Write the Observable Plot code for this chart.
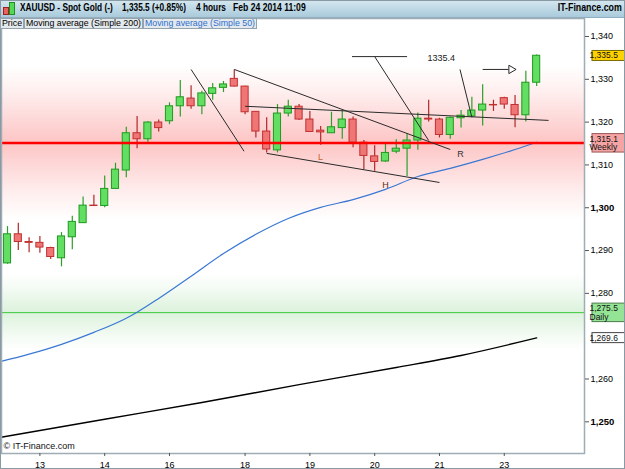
<!DOCTYPE html>
<html><head><meta charset="utf-8">
<script src="https://cdn.jsdelivr.net/npm/d3@7"></script>
<script src="https://cdn.jsdelivr.net/npm/@observablehq/plot@0.6"></script>
<style>
body{margin:0;background:#fff;font-family:"Liberation Sans",Arial,sans-serif;}
#wrap{position:relative;width:625px;height:469px;overflow:hidden;background:#fff;}
#hdr{position:absolute;left:0;top:0;width:625px;height:18px;background:linear-gradient(#d6e8f1,#a9cadb);border-bottom:1px solid #8fb0c2;box-sizing:border-box;}
.ht{position:absolute;top:2px;font-weight:bold;font-size:10px;white-space:nowrap;color:#000;transform-origin:left center;transform:scaleX(0.83);}
#legend{position:absolute;left:0;top:18px;height:10px;display:flex;font-size:8.8px;z-index:2;}
.lg{border:1px solid #93a4ae;background:#e3e9ec;padding:0 1px;line-height:9px;height:9px;white-space:nowrap;}
#chart{position:absolute;left:0;top:18px;}
#border{position:absolute;left:0;top:0;width:625px;height:469px;box-sizing:border-box;border:1px solid #8a9aa5;pointer-events:none;}
.ic{position:absolute;}
</style></head>
<body>
<div id="wrap">
  <div id="hdr">
    <div class="ic" style="left:3px;top:7px;width:4px;height:6px;background:#e86060;border:1px solid #a02020"></div>
    <div class="ic" style="left:9px;top:2px;width:4px;height:11px;background:#55d855;border:1px solid #1e8e1e"></div>
    <span class="ht" style="left:20px">XAUUSD - Spot Gold (-)</span>
    <span class="ht" style="left:122px">1,335.5 (+0.85%)</span>
    <span class="ht" style="left:196px">4 hours</span>
    <span class="ht" style="left:233px;transform:scaleX(0.86)">Feb 24 2014 11:09</span>
    <span class="ht" style="right:3px;transform-origin:right center;transform:scaleX(0.88)">IT-Finance.com</span>
  </div>
  <div id="legend">
    <div class="lg">Price</div>
    <div class="lg">Moving average (Simple 200)</div>
    <div class="lg" style="color:#2f6fd0">Moving average (Simple 50)</div>
  </div>
  <div id="chart"></div>
  <div id="border"></div>
</div>
<script>
// ---- candle data (4-hour XAUUSD) ----
const open  = [1287.0,1293.8,1292.0,1291.8,1290.6,1288.2,1293.1,1296.4,1300.5,1300.4,1304.4,1308.7,1317.4,1316.0,1319.9,1320.2,1323.7,1325.5,1323.7,1326.6,1328.0,1330.1,1328.3,1322.4,1317.8,1313.4,1322.0,1323.6,1320.6,1318.0,1317.4,1318.6,1320.6,1315.2,1312.0,1310.8,1313.1,1313.8,1315.7,1320.8,1320.6,1317.0,1320.9,1321.3,1322.7,1324.0,1325.6,1324.0,1321.6,1329.2];
const high  = [1295.6,1296.4,1293.0,1293.3,1290.8,1294.2,1298.0,1302.5,1302.9,1307.4,1310.4,1318.8,1321.3,1320.1,1320.5,1324.5,1329.7,1328.5,1327.2,1329.0,1329.5,1332.2,1328.4,1322.5,1321.0,1324.1,1325.1,1324.1,1322.5,1319.0,1322.3,1322.7,1321.2,1315.7,1314.5,1315.0,1315.9,1317.3,1322.1,1325.1,1320.9,1321.2,1322.7,1325.8,1328.7,1325.1,1325.8,1326.2,1331.9,1335.7];
const low   = [1286.8,1290.0,1289.5,1289.4,1287.9,1286.2,1290.2,1296.3,1300.3,1300.0,1304.3,1307.0,1313.8,1315.3,1317.7,1319.4,1321.2,1323.0,1321.7,1325.1,1326.9,1328.2,1321.7,1316.3,1312.8,1312.8,1321.2,1320.4,1317.6,1314.6,1317.4,1316.0,1314.0,1308.9,1308.5,1310.6,1312.6,1307.3,1313.4,1320.0,1316.3,1316.0,1318.6,1321.1,1319.1,1322.5,1323.0,1318.7,1320.0,1328.3];
const close = [1293.8,1292.0,1291.8,1290.7,1288.5,1293.3,1296.7,1300.5,1300.4,1304.4,1308.9,1317.4,1316.0,1319.9,1318.6,1323.7,1325.8,1323.7,1326.7,1327.9,1328.8,1328.3,1322.3,1317.8,1313.6,1322.0,1323.6,1320.6,1317.7,1317.6,1318.8,1320.6,1315.2,1312.1,1310.7,1312.8,1313.8,1315.7,1320.8,1320.6,1317.0,1321.0,1321.5,1322.7,1324.1,1323.9,1324.1,1321.6,1329.2,1335.5];

// x-axis tick labels (day of month) at candle positions
const tickIdx    = [3, 9, 15, 22, 28, 34, 40, 46];
const tickLabels = ["13","14","16","18","19","20","21","23"];

// y-axis ticks (1,270 is hidden by the MA label in the original)
const yTicksNormal = [1260,1280,1290,1310,1320,1330,1340];
const yTicksBold   = [1250,1300];

// moving averages (candle position / price)
const ma50Idx = [-0.6,2,5,8,11,12,14,17,20,23,26,29,32,35,38,41,44,47,49];
const ma50Val = [1264.1,1265.8,1268.1,1270.9,1274.2,1275.6,1278.8,1284.0,1289.3,1293.8,1297.5,1300.1,1301.9,1304.3,1307.3,1309.2,1311.3,1313.6,1315.3];
const ma200Idx = [-0.6,9,18,27,36,42,49];
const ma200Val = [1246.4,1250.6,1254.5,1258.7,1262.7,1265.5,1269.6];

// support / resistance levels
const levelValues = [1315.1, 1275.5];
const levelNames  = ["Weekly", "Daily"];

// right-side price labels
const priceLabelValues = [1335.5, 1315.1, 1275.5, 1269.6];
const priceLabelTexts  = ["1,335.5", "1,315.1\nWeekly", "1,275.5\nDaily", "1,269.6"];

// hand-drawn trend lines (candle position, price)
const trendLines = [
  {i1:17.0, p1:1332.3, i2:21.9, p2:1313.2},
  {i1:21.0, p1:1332.3, i2:41.0, p2:1313.6},
  {i1:22.0, p1:1323.7, i2:50.1, p2:1320.4},
  {i1:24.0, p1:1312.7, i2:40.0, p2:1305.9},
  {i1:31.9, p1:1335.3, i2:37.0, p2:1335.3},
  {i1:34.0, p1:1335.3, i2:39.0, p2:1315.7},
  {i1:41.9, p1:1332.3, i2:43.0, p2:1321.1}
];
const arrowLine = [{i1:44.0, i2:46.4, p:1332.3}];

// annotation letters and level note
const letterText = ["L", "H", "R"];
const letterIdx  = [28.98, 35.0, 41.94];
const letterVal  = [1311.8, 1305.4, 1312.5];
const noteText = ["1335.4"];
const noteIdx  = [38.9];
const noteVal  = [1334.9];

// ---- build tables ----
const candles = open.map((o, i) => ({i, open: o, high: high[i], low: low[i], close: close[i]}));
const up = candles.filter(d => d.close >= d.open);
const down = candles.filter(d => d.close < d.open);
const ma50 = ma50Idx.map((x, k) => ({x, y: ma50Val[k]}));
const ma200 = ma200Idx.map((x, k) => ({x, y: ma200Val[k]}));
const priceLabels = priceLabelValues.map((v, k) => ({v, t: priceLabelTexts[k]}));
const letters = letterText.map((t, k) => ({t, x: letterIdx[k], y: letterVal[k]}));
const notes = noteText.map((t, k) => ({t, x: noteIdx[k], y: noteVal[k]}));
const letterColors = ["#c8642d", "#5a3020", "#333"];

const hw = 0.33;
const chart = Plot.plot({
  width: 625, height: 451,
  marginTop: 0, marginLeft: 1, marginRight: 41, marginBottom: 16,
  x: {domain: [-0.556, 53.43], axis: null},
  y: {domain: [1242.6, 1344.2], axis: null},
  style: {fontFamily: "'Liberation Sans', Arial, sans-serif", fontSize: "9px", background: "transparent", overflow: "visible"},
  marks: [
    Plot.rect([levelValues[0]], {y1: d => d - 18, y2: d => d + 18, fill: "#fdc5c5"}),
    Plot.rect([levelValues[1]], {y1: d => d - 9, y2: d => d + 9, fill: "#dcf2dc"}),
    Plot.ruleY([levelValues[1]], {stroke: "#3cc83c", strokeWidth: 1}),
    Plot.line(ma200, {x: "x", y: "y", stroke: "#000", strokeWidth: 1.4, curve: "monotone-x"}),
    Plot.line(ma50, {x: "x", y: "y", stroke: "#3a78d4", strokeWidth: 1.2, curve: "monotone-x"}),
    // wicks
    Plot.ruleX(up, {x: "i", y1: "low", y2: "high", stroke: "#2aa02a", strokeWidth: 1.2}),
    Plot.ruleX(down, {x: "i", y1: "low", y2: "high", stroke: "#b02828", strokeWidth: 1.2}),
    // bodies
    Plot.rect(up, {x1: d => d.i - hw, x2: d => d.i + hw, y1: "open", y2: "close", fill: "#62de62", stroke: "#1f9a1f", strokeWidth: 1}),
    Plot.rect(down, {x1: d => d.i - hw, x2: d => d.i + hw, y1: "open", y2: "close", fill: "#f07676", stroke: "#c03030", strokeWidth: 1}),
    Plot.ruleY([levelValues[0]], {stroke: "#ff0000", strokeWidth: 2.5}),
    // trend lines
    Plot.link(trendLines, {x1: "i1", y1: "p1", x2: "i2", y2: "p2", stroke: "#2a2a2a", strokeWidth: 1}),
    Plot.link(arrowLine, {x1: "i1", y1: "p", x2: "i2", y2: "p", stroke: "#2a2a2a", strokeWidth: 1}),
    Plot.dot(arrowLine, {x: d => d.i2 + 0.25, y: "p", symbol: "triangle", r: 3.1, rotate: 90, fill: "#fff", stroke: "#2a2a2a", strokeWidth: 1}),
    Plot.text(letters, {x: "x", y: "y", text: "t", textAnchor: "middle", fontSize: 9, fill: "#333"}),
    Plot.text(notes, {x: "x", y: "y", text: "t", textAnchor: "start", fontSize: 9, fill: "#222"}),
    Plot.text(["© IT-Finance.com"], {frameAnchor: "bottom-left", dx: 2, dy: -5, textAnchor: "start", fontSize: 9, fill: "#111"}),
    Plot.frame({stroke: "#a0adb4", strokeWidth: 1.5}),
    Plot.axisY({anchor: "right", ticks: yTicksNormal, tickFormat: d3.format(","), tickSize: 4, tickPadding: 2, fontSize: 9, stroke: "#555"}),
    Plot.axisY({anchor: "right", ticks: yTicksBold, tickFormat: d3.format(","), tickSize: 4, tickPadding: 2, fontSize: 9.5, fontWeight: "bold", stroke: "#555"}),
    Plot.axisX({ticks: tickIdx, tickFormat: d => tickLabels[tickIdx.indexOf(d)], tickSize: 3, tickPadding: 5, fontSize: 9, stroke: "#555"}),
    Plot.text(priceLabels, {y: "v", text: "t", frameAnchor: "right", dx: 5, textAnchor: "start", fontSize: 8.5, fill: "#111", lineHeight: 1.0})
  ]
});
document.getElementById("chart").append(chart);

// gradients for glow bands
const svg = d3.select(chart);
const defs = svg.insert("defs", ":first-child");
function grad(id, color) {
  const g = defs.append("linearGradient").attr("id", id).attr("x1", 0).attr("y1", 0).attr("x2", 0).attr("y2", 1);
  [[0, 0], [0.18, 0.3], [0.5, 1], [0.82, 0.3], [1, 0]].forEach(([o, a]) =>
    g.append("stop").attr("offset", o).attr("stop-color", color).attr("stop-opacity", a));
}
grad("glowRed", "#fdc5c5");
grad("glowGreen", "#dcf2dc");
svg.selectAll('[fill="#fdc5c5"]').attr("fill", "url(#glowRed)");
svg.selectAll('[fill="#dcf2dc"]').attr("fill", "url(#glowGreen)");

// price label boxes (placed behind the texts drawn by Plot)
const norm = s => s.replace(/\s/g, "");
const boxStyle = [["#ffd200", "#7a6a00"], ["#f5a3a3", "#9a5a5a"], ["#95e495", "#4c7c4c"], ["#ffffff", "#444"]];
Array.from(chart.querySelectorAll("text")).forEach(t => {
  const k = priceLabelTexts.findIndex(s => norm(t.textContent) === norm(s));
  if (k < 0) return;
  const b = t.getBBox();
  const c = t.transform.baseVal.consolidate();
  const ty = c ? c.matrix.f : 0;
  const r = document.createElementNS("http://www.w3.org/2000/svg", "rect");
  r.setAttribute("x", 586.5); r.setAttribute("y", ty + b.y);
  r.setAttribute("width", 37); r.setAttribute("height", b.height);
  r.setAttribute("fill", boxStyle[k][0]); r.setAttribute("stroke", boxStyle[k][1]);
  t.parentNode.insertBefore(r, t);
});
// letter colours
Array.from(chart.querySelectorAll("text")).forEach(t => {
  const k = letterText.indexOf(t.textContent);
  if (k >= 0) t.setAttribute("fill", letterColors[k]);
});
</script>
</body></html>
